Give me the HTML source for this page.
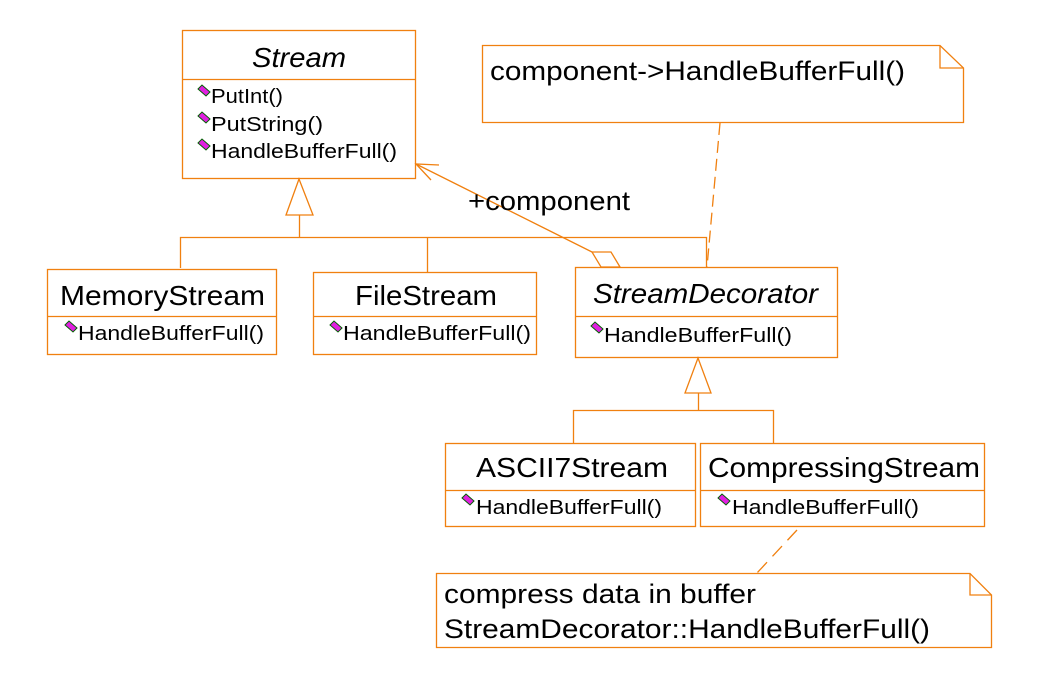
<!DOCTYPE html>
<html><head><meta charset="utf-8"><style>
html,body{margin:0;padding:0;background:#fff;}
svg{display:block}
text{font-family:"Liberation Sans",Arial,sans-serif;fill:#000}
.t{font-size:28px}
.m{font-size:20px}
.n{font-size:27px}
</style></head><body>
<svg width="1042" height="683" viewBox="0 0 1042 683" xmlns="http://www.w3.org/2000/svg">
<defs>
<g id="ic"><polygon points="0,3 4,-1 12,6 8,10" fill="#e020e0" stroke="#006000" stroke-width="1"/></g>
</defs>
<g fill="none" stroke="#f08010" stroke-width="1.3">
<rect x="182.5" y="30.5" width="233" height="148"/>
<line x1="182" y1="79.5" x2="415" y2="79.5"/>
<polygon points="299,179 286,215 313,215"/>
<line x1="299.5" y1="215" x2="299.5" y2="237"/>
<polyline points="180.5,268 180.5,237.5 706.5,237.5 706.5,268"/>
<line x1="427.5" y1="237" x2="427.5" y2="272"/>
<rect x="47.5" y="269.5" width="229" height="85"/>
<line x1="47" y1="316.5" x2="276" y2="316.5"/>
<rect x="313.5" y="272.5" width="223" height="82"/>
<line x1="313" y1="316.5" x2="536" y2="316.5"/>
<rect x="575.5" y="267.5" width="262" height="90"/>
<line x1="575" y1="316.5" x2="837" y2="316.5"/>
<line x1="416" y1="164" x2="592" y2="252"/>
<polyline points="439,165 416,164 431,180"/>
<polygon points="592,252 611,252 620,267 601,267"/>
<polygon points="482.5,45.5 940,45.5 963.5,68 963.5,122.5 482.5,122.5"/>
<polyline points="940,45.5 940,68 963.5,68"/>
<line x1="720" y1="123" x2="707" y2="267" stroke-dasharray="12,6"/>
<polygon points="698,358 685,393 711,393"/>
<line x1="698.5" y1="393" x2="698.5" y2="410"/>
<polyline points="573.5,443 573.5,410.5 773.5,410.5 773.5,443"/>
<rect x="445.5" y="443.5" width="250" height="83"/>
<line x1="445" y1="490.5" x2="695" y2="490.5"/>
<rect x="700.5" y="443.5" width="284" height="83"/>
<line x1="700" y1="490.5" x2="984" y2="490.5"/>
<polygon points="436.5,573.5 970,573.5 991.5,595 991.5,647.5 436.5,647.5"/>
<polyline points="970,573.5 970,595 991.5,595"/>
<line x1="797" y1="530" x2="757" y2="573" stroke-dasharray="14,8"/>
</g>
<text class="t" x="252" y="67" font-style="italic" textLength="94" lengthAdjust="spacingAndGlyphs">Stream</text>
<use href="#ic" x="198" y="86"/><text class="m" x="211" y="103" textLength="72" lengthAdjust="spacingAndGlyphs">PutInt()</text>
<use href="#ic" x="198" y="113"/><text class="m" x="211" y="131" textLength="112" lengthAdjust="spacingAndGlyphs">PutString()</text>
<use href="#ic" x="198" y="140"/><text class="m" x="211" y="158" textLength="186" lengthAdjust="spacingAndGlyphs">HandleBufferFull()</text>
<text class="n" x="468" y="210" textLength="162" lengthAdjust="spacingAndGlyphs">+component</text>
<text class="t" x="60" y="305" textLength="205" lengthAdjust="spacingAndGlyphs">MemoryStream</text>
<use href="#ic" x="65" y="322"/><text class="m" x="78" y="340" textLength="186" lengthAdjust="spacingAndGlyphs">HandleBufferFull()</text>
<text class="t" x="355" y="305" textLength="142" lengthAdjust="spacingAndGlyphs">FileStream</text>
<use href="#ic" x="330" y="322"/><text class="m" x="343" y="340" textLength="188" lengthAdjust="spacingAndGlyphs">HandleBufferFull()</text>
<text class="t" x="593" y="303" font-style="italic" textLength="225" lengthAdjust="spacingAndGlyphs">StreamDecorator</text>
<use href="#ic" x="591" y="323"/><text class="m" x="604" y="342" textLength="188" lengthAdjust="spacingAndGlyphs">HandleBufferFull()</text>
<text class="n" x="490" y="80" textLength="415" lengthAdjust="spacingAndGlyphs">component-&gt;HandleBufferFull()</text>
<text class="t" x="476" y="477" textLength="192" lengthAdjust="spacingAndGlyphs">ASCII7Stream</text>
<use href="#ic" x="462" y="495"/><text class="m" x="476" y="514" textLength="186" lengthAdjust="spacingAndGlyphs">HandleBufferFull()</text>
<text class="t" x="708" y="477" textLength="272" lengthAdjust="spacingAndGlyphs">CompressingStream</text>
<use href="#ic" x="718" y="495"/><text class="m" x="732" y="514" textLength="187" lengthAdjust="spacingAndGlyphs">HandleBufferFull()</text>
<text class="n" x="444" y="603" textLength="312" lengthAdjust="spacingAndGlyphs">compress data in buffer</text>
<text class="n" x="444" y="638" textLength="486" lengthAdjust="spacingAndGlyphs">StreamDecorator::HandleBufferFull()</text>
</svg>
</body></html>
